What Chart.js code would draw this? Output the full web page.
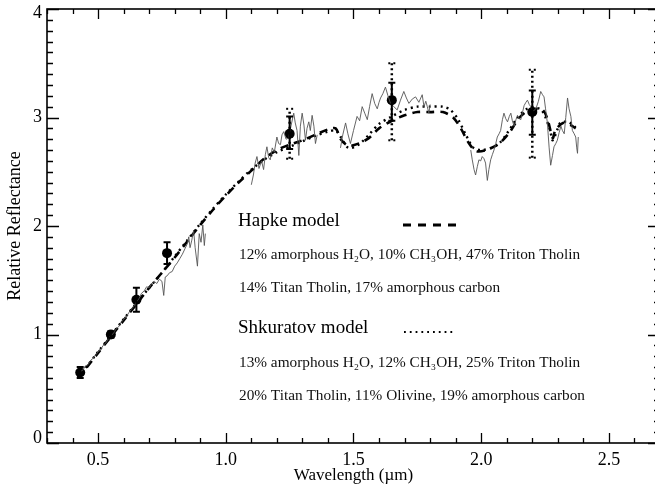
<!DOCTYPE html>
<html>
<head>
<meta charset="utf-8">
<script src="https://cdn.jsdelivr.net/npm/chart.js@4.4.1/dist/chart.umd.min.js"></script>
<style>
  html, body { margin: 0; padding: 0; background: #fff; overflow: hidden; }
  #wrap { width: 655px; height: 486px; overflow: hidden; }
  canvas { display: block; }
</style>
</head>
<body>
<div id="wrap"><canvas id="chart" width="670" height="486"></canvas></div>
<script>
// axis ticks
const xMajor = [0.5, 1.0, 1.5, 2.0, 2.5];
const yMajor = [0, 1, 2, 3, 4];

// observed spectrum, split where there is no data
const specWl1 = [0.43, 0.44, 0.45, 0.46, 0.47, 0.48, 0.49, 0.50, 0.51, 0.52, 0.53, 0.54, 0.55, 0.56, 0.57, 0.58, 0.59, 0.60, 0.61, 0.62, 0.63, 0.64, 0.65, 0.66, 0.67, 0.68, 0.69, 0.70, 0.71, 0.72, 0.73, 0.74, 0.75, 0.757, 0.763, 0.77, 0.78, 0.79, 0.80, 0.81, 0.82, 0.83, 0.84, 0.85, 0.855, 0.86, 0.867, 0.874, 0.88, 0.889, 0.896, 0.903, 0.91, 0.916, 0.92];
const specR1 = [0.66, 0.67, 0.71, 0.72, 0.76, 0.78, 0.81, 0.84, 0.86, 0.90, 0.92, 0.96, 0.99, 1.01, 1.05, 1.07, 1.11, 1.14, 1.16, 1.20, 1.23, 1.26, 1.30, 1.33, 1.38, 1.40, 1.44, 1.43, 1.47, 1.49, 1.47, 1.51, 1.49, 1.36, 1.53, 1.54, 1.57, 1.58, 1.63, 1.66, 1.70, 1.74, 1.79, 1.84, 1.90, 1.80, 1.87, 1.96, 1.80, 1.63, 1.93, 1.85, 2.01, 1.82, 1.93];

const specWl2 = [1.100, 1.108, 1.115, 1.122, 1.130, 1.140, 1.148, 1.155, 1.161, 1.168, 1.174, 1.182, 1.190, 1.200, 1.207, 1.214, 1.220, 1.227, 1.236, 1.246, 1.256, 1.266, 1.272, 1.279, 1.286, 1.292, 1.299, 1.306, 1.312, 1.318, 1.325, 1.331, 1.338, 1.345, 1.351, 1.358];
const specR2 = [2.38, 2.47, 2.58, 2.64, 2.53, 2.60, 2.52, 2.66, 2.73, 2.63, 2.61, 2.72, 2.68, 2.82, 2.76, 2.75, 2.84, 2.87, 2.80, 2.81, 2.93, 3.04, 2.95, 2.88, 2.65, 2.92, 3.04, 2.93, 2.79, 2.90, 2.96, 2.88, 3.02, 2.92, 2.76, 2.84];

const specWl3 = [1.449, 1.458, 1.469, 1.478, 1.488, 1.500, 1.514, 1.524, 1.534, 1.544, 1.554, 1.563, 1.573, 1.583, 1.593, 1.600, 1.606, 1.615, 1.625, 1.635, 1.645, 1.658, 1.671, 1.684, 1.697, 1.707, 1.717, 1.730, 1.743, 1.756, 1.769, 1.776, 1.783, 1.789, 1.795, 1.800];
const specR3 = [2.72, 2.84, 2.95, 2.85, 2.76, 2.88, 3.01, 2.97, 3.10, 3.04, 2.98, 3.10, 3.22, 3.13, 3.08, 3.14, 3.18, 3.22, 3.28, 3.20, 3.13, 3.10, 3.07, 3.16, 3.24, 3.18, 3.13, 3.17, 3.19, 3.14, 3.21, 3.10, 3.15, 3.10, 3.04, 3.12];

const specWl4 = [1.959, 1.965, 1.972, 1.978, 1.985, 1.991, 1.998, 2.004, 2.011, 2.017, 2.024, 2.030, 2.037, 2.044, 2.050, 2.057, 2.063, 2.070, 2.076, 2.083, 2.089, 2.096, 2.103, 2.110, 2.116, 2.122, 2.129, 2.136, 2.142, 2.149, 2.155, 2.162, 2.168, 2.175, 2.181, 2.188, 2.194, 2.204, 2.214, 2.224, 2.233, 2.240, 2.246, 2.252, 2.259, 2.266, 2.272, 2.279, 2.285, 2.292, 2.298, 2.305, 2.312, 2.318, 2.325, 2.331, 2.338, 2.344, 2.351, 2.357, 2.364, 2.370, 2.374, 2.377, 2.380];
const specR4 = [2.70, 2.61, 2.52, 2.47, 2.55, 2.61, 2.60, 2.64, 2.62, 2.58, 2.42, 2.52, 2.61, 2.66, 2.70, 2.76, 2.82, 2.85, 2.88, 2.98, 3.04, 2.99, 2.96, 3.01, 3.04, 2.97, 2.92, 2.98, 3.02, 2.99, 2.98, 3.05, 3.11, 3.14, 3.16, 3.12, 3.10, 3.06, 3.08, 3.15, 3.24, 3.21, 3.19, 3.08, 2.95, 2.72, 2.56, 2.65, 2.73, 2.76, 2.79, 2.86, 2.92, 2.88, 2.85, 3.00, 3.18, 3.08, 3.01, 2.88, 2.85, 2.82, 2.72, 2.67, 2.82];

// Hapke model (dashed)
const hapkeWl = [0.42, 0.45, 0.50, 0.55, 0.60, 0.65, 0.70, 0.75, 0.80, 0.85, 0.90, 0.95, 1.00, 1.05, 1.10, 1.15, 1.20, 1.25, 1.30, 1.35, 1.40, 1.43, 1.45, 1.48, 1.52, 1.56, 1.60, 1.65, 1.70, 1.75, 1.80, 1.85, 1.89, 1.92, 1.95, 1.98, 2.02, 2.07, 2.11, 2.15, 2.19, 2.24, 2.26, 2.28, 2.29, 2.32, 2.35, 2.37];
const hapkeR = [0.60, 0.68, 0.83, 0.98, 1.13, 1.28, 1.43, 1.57, 1.71, 1.86, 2.01, 2.15, 2.28, 2.40, 2.51, 2.62, 2.70, 2.75, 2.79, 2.84, 2.89, 2.90, 2.80, 2.74, 2.76, 2.81, 2.90, 2.97, 3.02, 3.05, 3.05, 3.05, 3.00, 2.90, 2.77, 2.69, 2.70, 2.76, 2.86, 3.00, 3.07, 3.07, 2.98, 2.81, 2.88, 2.95, 2.93, 2.90];

// Shkuratov model (dotted)
const shkWl = [0.42, 0.45, 0.50, 0.55, 0.60, 0.65, 0.70, 0.75, 0.80, 0.85, 0.90, 0.95, 1.00, 1.05, 1.10, 1.15, 1.20, 1.25, 1.30, 1.35, 1.40, 1.43, 1.45, 1.48, 1.52, 1.56, 1.60, 1.65, 1.70, 1.75, 1.80, 1.85, 1.88, 1.91, 1.94, 1.97, 2.00, 2.04, 2.07, 2.10, 2.14, 2.18, 2.23, 2.25, 2.27, 2.28, 2.30, 2.31, 2.34, 2.37];
const shkR = [0.61, 0.69, 0.84, 0.99, 1.14, 1.29, 1.43, 1.57, 1.72, 1.87, 2.02, 2.16, 2.29, 2.41, 2.52, 2.61, 2.68, 2.73, 2.78, 2.83, 2.87, 2.88, 2.82, 2.72, 2.75, 2.84, 2.94, 3.01, 3.07, 3.10, 3.10, 3.10, 3.07, 2.98, 2.84, 2.72, 2.70, 2.72, 2.76, 2.85, 2.99, 3.08, 3.08, 3.01, 2.88, 2.79, 2.90, 2.95, 2.96, 2.91];

// photometry with error bars
const photWl = [0.43, 0.55, 0.65, 0.77, 1.25, 1.65, 2.20];
const photR = [0.65, 1.00, 1.32, 1.75, 2.85, 3.16, 3.05];
const errLo = [0.60, 0.97, 1.21, 1.65, 2.71, 2.97, 2.84];
const errHi = [0.70, 1.03, 1.43, 1.85, 3.01, 3.32, 3.25];
const dotLo = [null, null, null, null, 2.62, 2.79, 2.63];
const dotHi = [null, null, null, null, 3.08, 3.50, 3.44];

const pairs = (xs, ys) => xs.map((v, i) => ({ x: v, y: ys[i] }));

const SERIF = '"Liberation Serif", "DejaVu Serif", serif';

// inward ticks on all four sides + frame
const frameTicks = {
  id: 'frameTicks',
  afterDatasetsDraw(chart) {
    const { ctx, chartArea: a, scales: { x, y } } = chart;
    ctx.save();
    ctx.strokeStyle = '#000';
    ctx.lineWidth = 1.6;
    ctx.strokeRect(a.left, a.top, a.right - a.left, a.bottom - a.top);
    ctx.lineWidth = 1.3;
    ctx.beginPath();
    for (let i = 3; i <= 27; i++) {
      const px = Math.round(x.getPixelForValue(i / 10)) + 0.5;
      const len = i % 5 === 0 ? 10 : 5;
      ctx.moveTo(px, a.bottom); ctx.lineTo(px, a.bottom - len);
      ctx.moveTo(px, a.top); ctx.lineTo(px, a.top + len);
    }
    for (let i = 0; i <= 40; i++) {
      const py = Math.round(y.getPixelForValue(i / 10)) + 0.5;
      const len = i % 10 === 0 ? 12 : 6;
      ctx.moveTo(a.left, py); ctx.lineTo(a.left + len, py);
      ctx.moveTo(a.right, py); ctx.lineTo(a.right - len, py);
    }
    ctx.stroke();
    ctx.restore();
  }
};

// keep the end labels of the y axis inside the frame, as the original does
const yEndLabels = {
  id: 'yEndLabels',
  beforeDraw(chart) {
    const y = chart.scales.y;
    const items = y.getLabelItems(chart.chartArea);
    items.forEach(it => {
      if (it.label === '4') it.options.translation[1] += 4;
      if (it.label === '0') it.options.translation[1] -= 5;
    });
  }
};

// error bars for the photometric points
const errorBars = {
  id: 'errorBars',
  afterDatasetsDraw(chart) {
    const { ctx, scales: { x, y } } = chart;
    ctx.save();
    ctx.strokeStyle = '#000';
    ctx.fillStyle = '#000';
    // dotted bars (larger)
    photWl.forEach((w, i) => {
      if (dotLo[i] == null) return;
      const px = x.getPixelForValue(w);
      const lo = y.getPixelForValue(dotLo[i]), hi = y.getPixelForValue(dotHi[i]);
      ctx.lineWidth = 2.5;
      ctx.setLineDash([2, 3]);
      ctx.beginPath();
      ctx.moveTo(px, lo); ctx.lineTo(px, hi);
      ctx.stroke();
      [lo, hi].forEach(py => {
        ctx.fillRect(px - 3.5, py - 1, 2, 2);
        ctx.fillRect(px + 1.5, py - 1, 2, 2);
      });
    });
    // solid bars
    ctx.setLineDash([]);
    ctx.lineWidth = 2;
    photWl.forEach((w, i) => {
      const px = x.getPixelForValue(w);
      const lo = y.getPixelForValue(errLo[i]), hi = y.getPixelForValue(errHi[i]);
      ctx.beginPath();
      ctx.moveTo(px, lo); ctx.lineTo(px, hi);
      ctx.moveTo(px - 3.5, lo); ctx.lineTo(px + 3.5, lo);
      ctx.moveTo(px - 3.5, hi); ctx.lineTo(px + 3.5, hi);
      ctx.stroke();
    });
    ctx.restore();
  }
};

// the text block inside the plot
const modelNotes = {
  id: 'modelNotes',
  afterDraw(chart) {
    const { ctx } = chart;
    ctx.save();
    ctx.fillStyle = '#000';
    ctx.textBaseline = 'alphabetic';
    ctx.textAlign = 'left';
    ctx.font = '19px ' + SERIF;
    ctx.fillText('Hapke model', 238, 226);
    ctx.fillText('Shkuratov model', 238, 333);
    ctx.font = '15.3px ' + SERIF;
    ctx.fillStyle = '#111';
    ctx.fillText('12% amorphous H\u2082O, 10% CH\u2083OH, 47% Triton Tholin', 239, 259);
    ctx.fillText('14% Titan Tholin, 17% amorphous carbon', 239, 292);
    ctx.fillText('13% amorphous H\u2082O, 12% CH\u2083OH, 25% Triton Tholin', 239, 367);
    ctx.fillText('20% Titan Tholin, 11% Olivine, 19% amorphous carbon', 239, 400);
    // line samples
    ctx.strokeStyle = '#000';
    ctx.lineWidth = 3;
    ctx.setLineDash([8, 7]);
    ctx.beginPath(); ctx.moveTo(403, 225); ctx.lineTo(457, 225); ctx.stroke();
    ctx.lineWidth = 1.8;
    ctx.setLineDash([1.8, 4]);
    ctx.beginPath(); ctx.moveTo(404, 332); ctx.lineTo(454, 332); ctx.stroke();
    ctx.restore();
  }
};

new Chart(document.getElementById('chart'), {
  type: 'scatter',
  data: {
    datasets: [
      { data: pairs(specWl1, specR1), showLine: true, borderColor: '#555', borderWidth: 0.9, pointRadius: 0 },
      { data: pairs(specWl2, specR2), showLine: true, borderColor: '#555', borderWidth: 0.9, pointRadius: 0 },
      { data: pairs(specWl3, specR3), showLine: true, borderColor: '#555', borderWidth: 0.9, pointRadius: 0 },
      { data: pairs(specWl4, specR4), showLine: true, borderColor: '#555', borderWidth: 0.9, pointRadius: 0 },
      { data: pairs(hapkeWl, hapkeR), showLine: true, borderColor: '#000', borderWidth: 2.6, borderDash: [8, 6], pointRadius: 0, tension: 0.3 },
      { data: pairs(shkWl, shkR), showLine: true, borderColor: '#000', borderWidth: 2.4, borderDash: [2, 4], pointRadius: 0, tension: 0.3 },
      { data: pairs(photWl, photR), pointRadius: 5, pointBackgroundColor: '#000', pointBorderColor: '#000', pointBorderWidth: 0 }
    ]
  },
  options: {
    responsive: false,
    animation: false,
    layout: { padding: { top: 9, right: 10, left: 0, bottom: 0 } },
    plugins: { legend: { display: false }, tooltip: { enabled: false } },
    scales: {
      x: {
        type: 'linear',
        min: 0.3,
        max: 2.7,
        grid: { display: false, drawTicks: false },
        border: { display: false },
        afterBuildTicks: s => { s.ticks = xMajor.map(v => ({ value: v })); },
        afterFit: s => { s.height = 43; s.paddingLeft = 0; s.paddingRight = 0; },
        ticks: {
          autoSkip: false,
          maxRotation: 0,
          padding: 6,
          color: '#000',
          font: { family: SERIF, size: 18 },
          callback: v => v.toFixed(1)
        },
        title: {
          display: true,
          text: 'Wavelength (\u00b5m)',
          color: '#000',
          font: { family: SERIF, size: 17 },
          padding: { top: 0, bottom: 0 }
        }
      },
      y: {
        min: 0,
        max: 4,
        grid: { display: false, drawTicks: false },
        border: { display: false },
        afterBuildTicks: s => { s.ticks = yMajor.map(v => ({ value: v })); },
        afterFit: s => { s.width = 47; s.paddingTop = 0; s.paddingBottom = 0; },
        ticks: {
          autoSkip: false,
          padding: 5,
          color: '#000',
          font: { family: SERIF, size: 18 },
          callback: v => String(v)
        },
        title: {
          display: true,
          text: 'Relative Reflectance',
          color: '#000',
          font: { family: SERIF, size: 18 },
          padding: { top: 4, bottom: 0 }
        }
      }
    }
  },
  plugins: [yEndLabels, frameTicks, errorBars, modelNotes]
});
</script>
</body>
</html>
